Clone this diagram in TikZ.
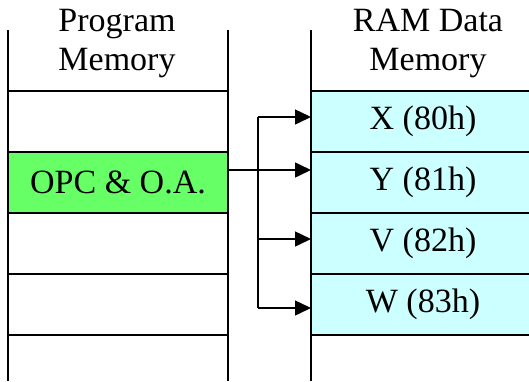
\documentclass[tikz,border=0pt]{standalone}
\usepackage{fontspec}
\setmainfont{Liberation Serif}
\usepackage{xcolor}
\usetikzlibrary{arrows.meta,positioning}
\definecolor{MGreen}{HTML}{66FF66}
\definecolor{MCyan}{HTML}{CCFFFF}

\begin{document}
\begin{tikzpicture}[
  x=1pt,y=-1pt,
  every node/.style={font=\fontsize{34}{39}\selectfont},
  cell/.style={draw,line width=1.3pt,minimum width=220pt,minimum height=61pt,
    inner sep=0pt,outer sep=0pt},
  opc/.style={cell,fill=MGreen},
  ram/.style={cell,fill=MCyan,minimum width=224pt},
  wall/.style={line width=1.5pt},
  a/.style={-{Triangle[length=16pt,width=15pt]},line width=1.5pt}
]
  \useasboundingbox (0,0) rectangle (529,381);

  % program memory column
  \node[cell] (pm1) at (118,121.5) {};
  \node[opc] (pm2) [below=0pt of pm1] {OPC \& O.A.};
  \node[cell] (pm3) [below=0pt of pm2] {};
  \node[cell] (pm4) [below=0pt of pm3] {};

  % data memory column
  \node[ram] (ramX) at (423,121.5) {X (80h)};
  \node[ram] (ramY) [below=0pt of ramX] {Y (81h)};
  \node[ram] (ramV) [below=0pt of ramY] {V (82h)};
  \node[ram] (ramW) [below=0pt of ramV] {W (83h)};

  \foreach \c in {pm1.north west,pm1.north east,ramX.north west}
    {\draw[wall] (\c |- 0,30) -- (\c |- 0,381);}

  \node[align=center,anchor=base] (hprog) at (117,70) {Program\\Memory};
  \node[align=center,anchor=base] (hram) at (428,70) {RAM Data\\Memory};

  % addressing
  \coordinate (fork) at (258,170);
  \draw[a] ([yshift=12.5pt]pm2.east) -- ([yshift=12.5pt]ramY.west);
  \draw[line width=1.5pt] (fork |- 0,117) -- (fork |- 0,308);
  \foreach \r/\y in {ramX/117,ramV/239,ramW/308}
    {\draw[a] (fork |- 0,\y) -- (\r.west |- 0,\y);}
\end{tikzpicture}
\end{document}
